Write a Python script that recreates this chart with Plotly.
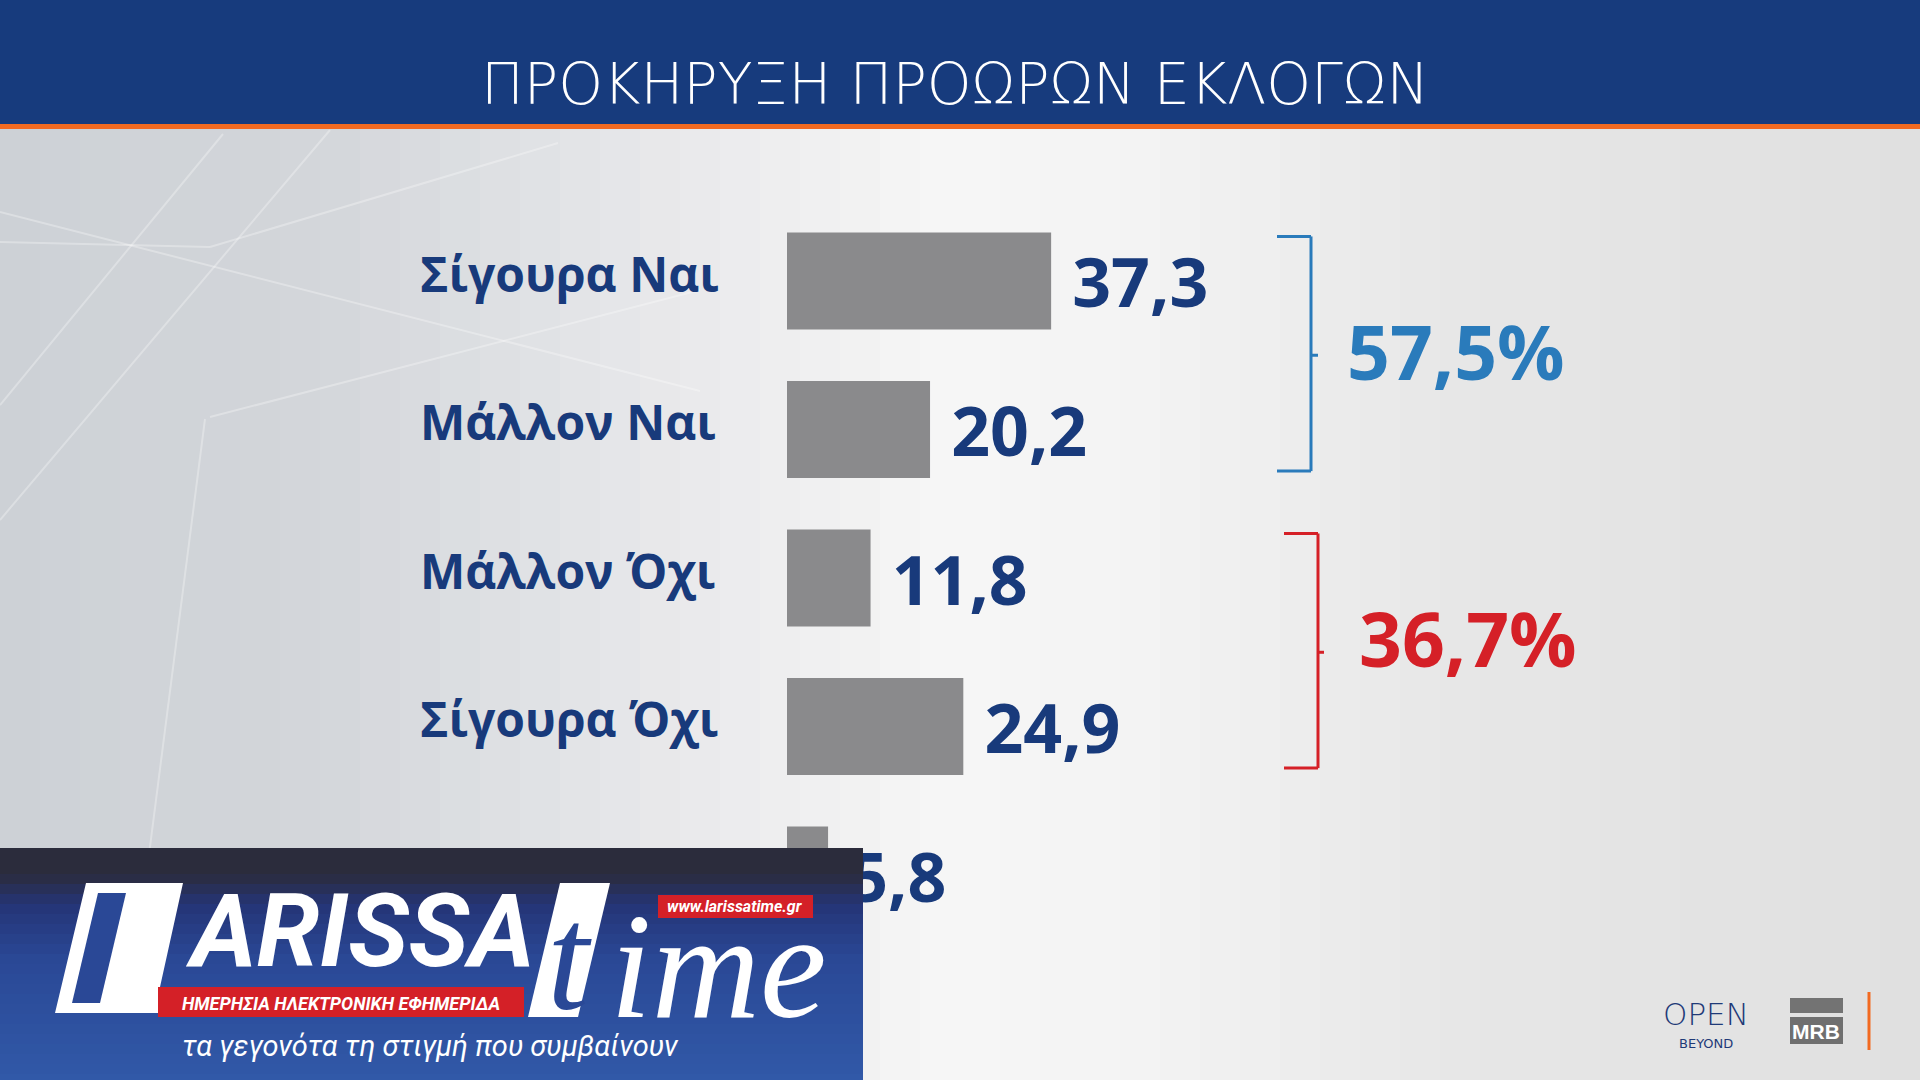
import plotly.graph_objects as go

# Δεδομένα δημοσκόπησης (MRB για OPEN)
title_text = "ΠΡΟΚΗΡΥΞΗ ΠΡΟΩΡΩΝ ΕΚΛΟΓΩΝ"
categories = ["Σίγουρα Ναι", "Μάλλον Ναι", "Μάλλον Όχι", "Σίγουρα Όχι", "ΔΓ/ΔΑ"]
values = [37.3, 20.2, 11.8, 24.9, 5.8]
value_labels = ["37,3", "20,2", "11,8", "24,9", "5,8"]
group_first = ["Σίγουρα Ναι", "Μάλλον Όχι"]
group_last = ["Μάλλον Ναι", "Σίγουρα Όχι"]
group_totals = ["57,5%", "36,7%"]

W, H = 1920, 1080
NAVY = "#183a7b"
BAR_GREY = "#8a8a8c"
GROUP_COLORS = ["#2a7bbb", "#d52027"]
BOLD_FONT = "Open Sans, Noto Sans, sans-serif"
NARROW_FONT = "Liberation Sans Narrow, Roboto, sans-serif"


def px(x):
    return x / W


def py(y):
    return 1 - y / H


def mix(c1, c2, t):
    a = [int(c1[i:i + 2], 16) for i in (1, 3, 5)]
    b = [int(c2[i:i + 2], 16) for i in (1, 3, 5)]
    return "#" + "".join(f"{round(a[k] + (b[k] - a[k]) * t):02x}" for k in range(3))


def gradient(stops, pos):
    for (p0, c0), (p1, c1) in zip(stops, stops[1:]):
        if p0 <= pos <= p1:
            return mix(c0, c1, (pos - p0) / (p1 - p0))
    return stops[-1][1]


def rect(x0, y0, x1, y1, color, layer="below"):
    return dict(type="rect", xref="paper", yref="paper", x0=px(x0), x1=px(x1),
                y0=py(y1), y1=py(y0), fillcolor=color, line_width=0, layer=layer)


shapes = []

# Φόντο: οριζόντια διαβάθμιση γκρι
bg_stops = [(0, "#cdd1d6"), (320, "#d3d6da"), (650, "#e7e8ea"), (950, "#f6f6f6"),
            (1150, "#f3f3f3"), (1450, "#e7e7e7"), (1920, "#e0e0e0")]
for i in range(48):
    x0 = i * 40
    shapes.append(rect(x0, 129, x0 + 41, H, gradient(bg_stops, x0 + 20)))

# Διακοσμητικές γραμμές αριστερά
for (x0, y0, x1, y1) in [(223, 134, 0, 405), (0, 242, 210, 247), (210, 247, 558, 143),
                         (0, 212, 700, 391), (210, 417, 700, 290), (205, 419, 120, 1080),
                         (0, 520, 330, 130)]:
    shapes.append(dict(type="line", xref="paper", yref="paper", x0=px(x0), y0=py(y0),
                       x1=px(x1), y1=py(y1), line=dict(color="white", width=2),
                       opacity=0.3, layer="below"))

# Κεφαλίδα
shapes.append(rect(0, 0, W, 124, "#173b7d"))
shapes.append(rect(0, 124, W, 129, "#f26a21"))

# Αγκύλες ομάδων (Ναι / Όχι)
bracket_x = [(1277, 1311, 1318), (1284, 1318, 1324)]
total_shift = [4, 14]
annotations = []
for g in range(len(group_totals)):
    top = categories.index(group_first[g]) - 0.3
    bot = categories.index(group_last[g]) + 0.28
    mid = (categories.index(group_first[g]) + categories.index(group_last[g])) / 2
    xa, xb, xt = bracket_x[g]
    line = dict(color=GROUP_COLORS[g], width=3)
    for (ax, ay, bx, by) in [(xa, top, xb, top), (xb, top, xb, bot), (xa, bot, xb, bot),
                             (xb, mid, xt, mid)]:
        shapes.append(dict(type="line", xref="paper", yref="y", x0=px(ax), x1=px(bx),
                           y0=ay, y1=by, line=line))
    annotations.append(dict(
        text=group_totals[g], xref="paper", yref="y", x=px(xt + 27 + 6 * g), y=mid,
        xanchor="left", yanchor="middle", yshift=total_shift[g], showarrow=False,
        font=dict(family=BOLD_FONT, size=75, color=GROUP_COLORS[g], weight="bold")))

# Τίτλος
annotations.append(dict(
    text=title_text, xref="paper", yref="paper", x=px(955), y=py(84),
    xanchor="center", yanchor="middle", showarrow=False,
    font=dict(family="DejaVu Sans, Roboto, sans-serif", size=57, color="white", weight=200)))

# Υδατογράφημα LARISSA time (κάτω αριστερά)
shapes.append(rect(0, 848, 863, 874, "#2b2c3c", "above"))
logo_stops = [(874, "#2b2c3c"), (905, "#253577"), (960, "#2a4896"), (1080, "#3159a8")]
for i in range(21):
    y0 = 874 + i * 10
    shapes.append(rect(0, y0, 863, min(y0 + 11, H), gradient(logo_stops, y0 + 5), "above"))
shapes.append(dict(type="path", xref="paper", yref="paper", layer="above", line_width=0,
                   fillcolor="white",
                   path=f"M {px(86)} {py(883)} L {px(183)} {py(883)} L {px(160)} {py(987)} "
                        f"L {px(175)} {py(987)} L {px(168)} {py(1013)} "
                        f"L {px(55)} {py(1013)} Z"))
shapes.append(dict(type="path", xref="paper", yref="paper", layer="above", line_width=0,
                   fillcolor="#2a4896",
                   path=f"M {px(98)} {py(893)} L {px(126)} {py(893)} L {px(100)} {py(1003)} "
                        f"L {px(72)} {py(1003)} Z"))
shapes.append(rect(658, 895, 813, 918, "#d42027", "above"))
shapes.append(rect(158, 987, 524, 1017, "#d42027", "above"))
# λευκό πλαίσιο πίσω από το «t»
shapes.append(dict(type="path", xref="paper", yref="paper", layer="above", line_width=0,
                   fillcolor="white",
                   path=f"M {px(560)} {py(883)} L {px(610)} {py(883)} L {px(578)} {py(1017)} "
                        f"L {px(528)} {py(1017)} Z"))

annotations += [
    dict(text="ARISSA", x=px(183), y=py(931), xanchor="left",
         font=dict(family=NARROW_FONT, size=101, color="white", weight="bold", style="italic")),
    dict(text="t", x=px(569), y=py(958),
         font=dict(family="Liberation Serif, serif", size=150, color="#2a4896", style="italic")),
    dict(text="ime", x=px(608), y=py(966), xanchor="left",
         font=dict(family="Liberation Serif, serif", size=150, color="white", style="italic")),
    dict(text="www.larissatime.gr", x=px(735), y=py(906),
         font=dict(family=NARROW_FONT, size=16, color="white", weight="bold", style="italic")),
    dict(text="ΗΜΕΡΗΣΙΑ ΗΛΕΚΤΡΟΝΙΚΗ ΕΦΗΜΕΡΙΔΑ", x=px(341), y=py(1003),
         font=dict(family=NARROW_FONT, size=18, color="white", weight="bold", style="italic")),
    dict(text="τα γεγονότα τη στιγμή που συμβαίνουν", x=px(430), y=py(1046),
         font=dict(family=NARROW_FONT, size=29, color="white", style="italic")),
]

# Λογότυπα OPEN / MRB (κάτω δεξιά)
shapes.append(rect(1790, 998, 1843, 1013, "#737373"))
shapes.append(rect(1790, 1017, 1843, 1044, "#6f6f6f"))
shapes.append(dict(type="line", xref="paper", yref="paper", x0=px(1869), x1=px(1869),
                   y0=py(992), y1=py(1050), line=dict(color="#f26a21", width=3)))
annotations += [
    dict(text="OPEN", x=px(1706), y=py(1014),
         font=dict(family="DejaVu Sans, sans-serif", size=31, color="#1f3a78", weight=200)),
    dict(text="BEYOND", x=px(1706), y=py(1043),
         font=dict(family="DejaVu Sans, sans-serif", size=13, color="#1f3a78")),
    dict(text="MRB", x=px(1816), y=py(1031),
         font=dict(family="Liberation Sans, Arial, sans-serif", size=21, color="white",
                   weight="bold")),
]
for a in annotations:
    a.setdefault("xref", "paper")
    a.setdefault("yref", "paper")
    a.setdefault("showarrow", False)
    a.setdefault("xanchor", "center")
    a.setdefault("yanchor", "middle")

fig = go.Figure(go.Bar(
    y=categories,
    x=values,
    orientation="h",
    marker=dict(color=BAR_GREY, line_width=0),
    text=value_labels,
    texttemplate="\u2009\u200a%{text}",
    textposition="outside",
    textangle=0,
    constraintext="none",
    cliponaxis=False,
    textfont=dict(family=BOLD_FONT, size=68, color=NAVY, weight="bold"),
    hoverinfo="skip",
))

fig.update_layout(
    width=W,
    height=H,
    margin=dict(l=0, r=0, t=0, b=0),
    paper_bgcolor="#e3e3e4",
    plot_bgcolor="rgba(0,0,0,0)",
    showlegend=False,
    bargap=0.347,
    shapes=shapes,
    annotations=annotations,
    xaxis=dict(domain=[px(787), 1], range=[0, 160], visible=False, fixedrange=True),
    yaxis=dict(
        type="category",
        categoryorder="array",
        categoryarray=categories,
        range=[5.38, -1.892],
        anchor="free",
        position=px(416),
        ticklabelposition="inside",
        ticklabelshift=6,
        ticks="",
        showline=False,
        showgrid=False,
        zeroline=False,
        tickfont=dict(family=BOLD_FONT, size=48, color=NAVY, weight="bold"),
        fixedrange=True,
    ),
)

fig.write_html("out.html", config={"displayModeBar": False},
               post_script="document.body.style.margin = '0';")
